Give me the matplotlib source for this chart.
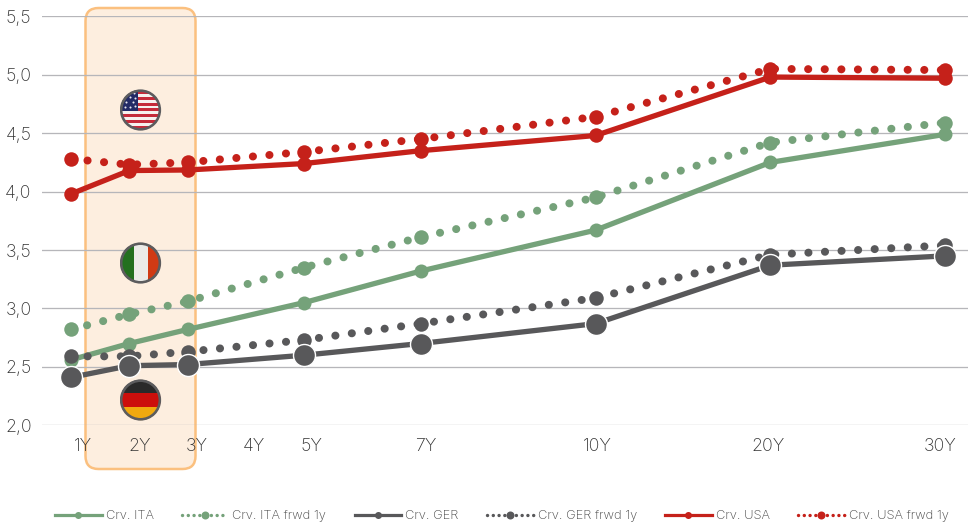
import matplotlib
matplotlib.use("Agg")
import matplotlib.pyplot as plt
from matplotlib.lines import Line2D
from matplotlib.patches import Circle, FancyBboxPatch, Rectangle
from matplotlib.transforms import IdentityTransform

plt.rcParams["font.family"] = ["Inter", "DejaVu Sans"]
plt.rcParams["font.weight"] = "light"
plt.rcParams["lines.scale_dashes"] = False

# maturities on a yearly slot axis (1Y = slot 0), so the gaps stay proportional up to 10Y
slots = [0, 1, 2, 4, 6, 9, 12, 15]
ita = [2.56, 2.70, 2.82, 3.05, 3.32, 3.67, 4.25, 4.49]
ita_fwd = [2.82, 2.95, 3.06, 3.35, 3.61, 3.95, 4.42, 4.59]
ger = [2.41, 2.51, 2.52, 2.60, 2.70, 2.87, 3.37, 3.45]
ger_fwd = [2.59, 2.59, 2.63, 2.73, 2.87, 3.09, 3.46, 3.54]
usa = [3.98, 4.18, 4.185, 4.24, 4.35, 4.48, 4.98, 4.97]
usa_fwd = [4.28, 4.23, 4.25, 4.34, 4.45, 4.64, 5.05, 5.04]

tick_slots = [0, 1, 2, 3, 4, 6, 9, 12, 15]
tick_labels = ["1Y", "2Y", "3Y", "4Y", "5Y", "7Y", "10Y", "20Y", "30Y"]
y_ticks = [2.0, 2.5, 3.0, 3.5, 4.0, 4.5, 5.0, 5.5]
y_labels = ["2,0", "2,5", "3,0", "3,5", "4,0", "4,5", "5,0", "5,5"]

GREEN = "#75a27a"
GREY = "#58585a"
RED = "#c5211a"
W, H = 968, 525


def px(v):
    return v * 72 / 100


def add_flag(cx, cy, r, draw):
    # little round flag in its own square axes, pixel centre given from the top left
    box = fig.add_axes([(cx - r) / W, 1 - (cy + r) / H, 2 * r / W, 2 * r / H], zorder=1)
    box.set_xlim(0, 1)
    box.set_ylim(0, 1)
    box.axis("off")
    clip = Circle((0.5, 0.5), 0.48, transform=box.transData)
    for art in draw(box):
        art.set_clip_path(clip)
    box.add_patch(Circle((0.5, 0.5), 0.46, fc="none", ec="#5c5c5e", lw=px(2.6)))


def usa_flag(box):
    arts = [box.add_patch(Rectangle((0, 0), 1, 1, fc="#f6f1ee", ec="none"))]
    for i in range(0, 13, 2):
        arts.append(box.add_patch(Rectangle((0, 0.06 + i * 0.068), 1, 0.068, fc="#c52b3a", ec="none")))
    arts.append(box.add_patch(Rectangle((0, 0.47), 0.45, 0.5, fc="#232a66", ec="none")))
    sx = [0.12, 0.26, 0.38, 0.16, 0.32, 0.1, 0.24, 0.38, 0.18, 0.34]
    sy = [0.58, 0.56, 0.6, 0.68, 0.7, 0.78, 0.8, 0.78, 0.88, 0.9]
    arts.append(box.scatter(sx, sy, s=2.2, c="#e8e8f0", linewidths=0))
    return arts


def ita_flag(box):
    return [
        box.add_patch(Rectangle((0, 0), 0.35, 1, fc="#23701f", ec="none")),
        box.add_patch(Rectangle((0.35, 0), 0.33, 1, fc="#ebebe8", ec="none")),
        box.add_patch(Rectangle((0.68, 0), 0.32, 1, fc="#d03a14", ec="none")),
    ]


def ger_flag(box):
    return [
        box.add_patch(Rectangle((0, 0.66), 1, 0.34, fc="#2a2a2a", ec="none")),
        box.add_patch(Rectangle((0, 0.33), 1, 0.33, fc="#cc0f0c", ec="none")),
        box.add_patch(Rectangle((0, 0), 1, 0.33, fc="#f0a90f", ec="none")),
    ]


fig = plt.figure(figsize=(W / 100, H / 100), dpi=100, facecolor="white")
ax = fig.add_axes([42 / W, 1 - 425.3 / H, (W - 42) / W, (425.3 - 16.3) / H], zorder=0)
ax.patch.set_alpha(0)
ax.set_xlim(-0.497, 15.39)
ax.set_ylim(2.0, 5.5)

# highlight over the short end, it also runs behind the tick labels
fig.add_artist(FancyBboxPatch((85.5, H - 469), 110, 461, boxstyle="round,pad=0,rounding_size=13",
                              fc="#fdeedf", ec="#fbc07f", lw=px(2.5),
                              transform=IdentityTransform(), zorder=-1))

ax.set_yticks(y_ticks, y_labels)
ax.set_xticks([0.206 + 0.98 * s for s in tick_slots], tick_labels)
ax.tick_params(axis="both", length=0, labelsize=12.8, labelcolor="#333333")
ax.tick_params(axis="y", pad=7.5)
ax.tick_params(axis="x", pad=9.5)
ax.grid(axis="y", color="#b6b6ba", lw=px(1.3))
ax.set_axisbelow(True)
for s in ax.spines.values():
    s.set_visible(False)

dots = (0, (0.1, px(16.45)))
lw_solid = px(5.3)
lw_dot = px(8)


def solid(vals, color, ms, z, edge=None):
    ax.plot(slots, vals, color=color, lw=lw_solid, marker="o", ms=px(ms), zorder=z,
            mec=edge or color, mew=px(1.4) if edge else 0, solid_capstyle="round")


def dotted(vals, color, z):
    ax.plot(slots, vals, color=color, lw=lw_dot, ls=dots, dash_capstyle="round",
            marker="o", ms=px(14.5), mew=0, zorder=z)


dotted(ita_fwd, GREEN, 3)
solid(ita, GREEN, 14, 4)
dotted(ger_fwd, GREY, 5)
solid(ger, GREY, 22, 6, edge="white")
dotted(usa_fwd, RED, 7)
solid(usa, RED, 14.5, 8)

add_flag(140.5, 110, 21, usa_flag)
add_flag(140.5, 263, 21, ita_flag)
add_flag(140.5, 400, 21, ger_flag)

leg_dots = (0, (0.05, px(5.7)))


def handle(color, dashed):
    if dashed:
        return Line2D([], [], color=color, lw=px(3.4), ls=leg_dots, dash_capstyle="round",
                      marker="o", ms=px(8), mew=0)
    return Line2D([], [], color=color, lw=px(3.2), marker="o", ms=px(7), mew=0)


handles = [handle(GREEN, False), handle(GREEN, True), handle(GREY, False),
           handle(GREY, True), handle(RED, False), handle(RED, True)]
names = ["Crv. ITA", "Crv. ITA frwd 1y", "Crv. GER", "Crv. GER frwd 1y", "Crv. USA", "Crv. USA frwd 1y"]
fig.legend(handles, names, ncols=6, loc="center left", frameon=False, numpoints=1,
           bbox_to_anchor=(55 / W, 1 - 516 / H), bbox_transform=fig.transFigure,
           fontsize=9.3, labelcolor="#454545", handlelength=3.6, handletextpad=0.31,
           columnspacing=2.2, borderpad=0, borderaxespad=0)

fig.savefig("out.png", dpi=100)
